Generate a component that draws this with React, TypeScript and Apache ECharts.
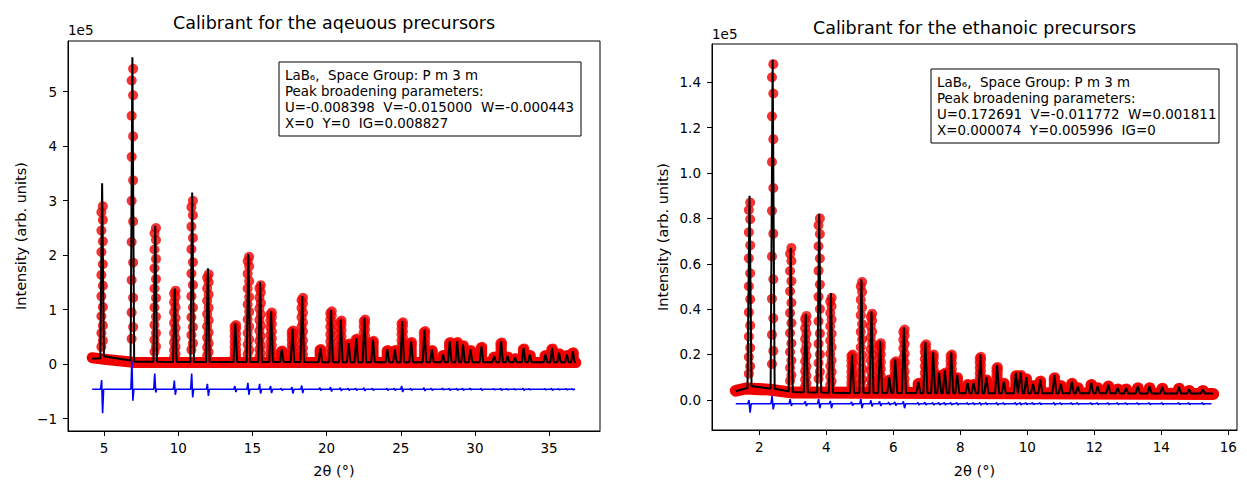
import React, { useEffect, useRef } from 'react';
import * as echarts from 'echarts';

const FONT = 'DejaVu Sans';
const RED = '#f20000';
const BLUE = '#0000ff';

// ---------- Left panel: aqueous calibrant (intensity in units of 1e5) ----------
const L_PEAK_POS = [4.87, 6.91, 8.45, 9.77, 10.94, 12.0, 13.85, 14.73, 15.52, 16.26, 16.98, 17.7, 18.36, 19.58, 20.3, 20.96, 21.49, 22.0, 22.55, 23.13, 24.1, 24.6, 25.1, 25.7, 26.6, 27.1, 27.85, 28.3, 28.8, 29.2, 29.7, 30.44, 31.3, 31.77, 32.2, 32.7, 33.28, 33.7, 34.75, 35.2, 35.67, 36.2, 36.6];
const L_CALC_H = [3.32, 5.63, 2.54, 1.39, 3.15, 1.76, 0.75, 2.02, 1.51, 0.97, 0.27, 0.65, 1.25, 0.3, 1.0, 0.82, 0.39, 0.48, 0.85, 0.45, 0.27, 0.27, 0.79, 0.42, 0.63, 0.27, 0.18, 0.42, 0.42, 0.36, 0.27, 0.33, 0.15, 0.42, 0.15, 0.12, 0.3, 0.18, 0.18, 0.3, 0.21, 0.18, 0.24];
const L_OBS_H = [2.9, 5.42, 2.5, 1.35, 3.0, 1.65, 0.72, 1.97, 1.45, 0.95, 0.25, 0.62, 1.22, 0.28, 0.97, 0.8, 0.38, 0.47, 0.82, 0.43, 0.26, 0.26, 0.77, 0.41, 0.61, 0.26, 0.17, 0.41, 0.41, 0.35, 0.26, 0.32, 0.14, 0.4, 0.14, 0.11, 0.29, 0.17, 0.17, 0.29, 0.2, 0.17, 0.22];
const L_DIFF_UP = [0.17, 0.52, 0.29, 0.16, 0.29, 0.1, 0.06, 0.12, 0.1, 0.06, 0.02, 0.04, 0.07, 0.03, 0.04, 0.03, 0.02, 0.02, 0.03, 0.02, 0.02, 0.02, 0.06, 0.02, 0.03, 0.02, 0.02, 0.02, 0.02, 0.02, 0.02, 0.02, 0.01, 0.02, 0.01, 0.01, 0.02, 0.01, 0.01, 0.02, 0.01, 0.01, 0.01];
const L_DIFF_DOWN = [-0.44, -0.21, -0.06, -0.1, -0.15, -0.12, -0.05, -0.1, -0.08, -0.07, -0.02, -0.08, -0.07, -0.02, -0.04, -0.03, -0.02, -0.02, -0.03, -0.02, -0.02, -0.02, -0.05, -0.02, -0.03, -0.02, -0.01, -0.02, -0.02, -0.02, -0.01, -0.02, -0.01, -0.02, -0.01, -0.01, -0.02, -0.01, -0.01, -0.02, -0.01, -0.01, -0.01];
const L_CALC_BG = [[4.2, 0.1], [4.75, 0.11], [5.0, 0.15], [6.8, 0.07], [7.05, 0.045], [12.0, 0.04], [36.8, 0.035]];
const L_OBS_BG = [[4.2, 0.12], [4.75, 0.1], [5.0, 0.09], [6.8, 0.04], [7.05, 0.03], [36.8, 0.03]];
const L_DIFF_OFFSET = -0.46;
const L_RANGE = [4.2, 36.75];
const L_X_TICKS = [5, 10, 15, 20, 25, 30, 35];
const L_Y_TICKS = [-1, 0, 1, 2, 3, 4, 5];

// ---------- Right panel: ethanoic calibrant (intensity in units of 1e5) ----------
const R_PEAK_POS = [1.71, 2.4, 2.94, 3.39, 3.79, 4.14, 4.77, 5.05, 5.35, 5.61, 5.88, 6.06, 6.32, 6.75, 6.96, 7.19, 7.37, 7.54, 7.73, 7.91, 8.22, 8.4, 8.6, 8.78, 9.1, 9.3, 9.66, 9.8, 9.97, 10.17, 10.39, 10.81, 11.0, 11.33, 11.51, 11.91, 12.1, 12.42, 12.7, 12.95, 13.3, 13.65, 14.03, 14.53, 14.83, 15.24];
const R_CALC_H = [0.9, 1.5, 0.67, 0.38, 0.82, 0.47, 0.2, 0.53, 0.39, 0.26, 0.1, 0.18, 0.32, 0.08, 0.255, 0.21, 0.12, 0.13, 0.21, 0.11, 0.075, 0.075, 0.2, 0.1, 0.154, 0.08, 0.12, 0.12, 0.1, 0.07, 0.09, 0.11, 0.07, 0.08, 0.06, 0.075, 0.06, 0.068, 0.053, 0.053, 0.06, 0.06, 0.058, 0.058, 0.046, 0.046];
const R_OBS_H = [0.87, 1.48, 0.67, 0.37, 0.8, 0.45, 0.2, 0.52, 0.38, 0.25, 0.09, 0.17, 0.31, 0.075, 0.245, 0.2, 0.11, 0.12, 0.2, 0.1, 0.07, 0.07, 0.19, 0.09, 0.145, 0.075, 0.11, 0.11, 0.095, 0.065, 0.085, 0.1, 0.065, 0.075, 0.055, 0.07, 0.055, 0.063, 0.05, 0.05, 0.055, 0.055, 0.053, 0.053, 0.043, 0.043];
const R_DIFF_UP = [0.016, 0.035, 0.02, 0.01, 0.02, 0.012, 0.008, 0.02, 0.015, 0.01, 0.006, 0.008, 0.01, 0.005, 0.006, 0.005, 0.005, 0.005, 0.005, 0.005, 0.004, 0.004, 0.005, 0.004, 0.005, 0.004, 0.005, 0.005, 0.004, 0.004, 0.004, 0.005, 0.004, 0.004, 0.004, 0.004, 0.004, 0.004, 0.004, 0.004, 0.004, 0.004, 0.004, 0.004, 0.004, 0.004];
const R_DIFF_DOWN = [-0.04, -0.025, -0.01, -0.01, -0.02, -0.02, -0.008, -0.02, -0.012, -0.01, -0.006, -0.008, -0.02, -0.005, -0.006, -0.005, -0.005, -0.005, -0.005, -0.005, -0.004, -0.004, -0.005, -0.004, -0.005, -0.004, -0.005, -0.005, -0.004, -0.004, -0.004, -0.005, -0.004, -0.004, -0.004, -0.004, -0.004, -0.004, -0.004, -0.004, -0.004, -0.004, -0.004, -0.004, -0.004, -0.004];
const R_CALC_BG = [[1.3, 0.038], [1.6, 0.05], [1.8, 0.06], [2.3, 0.05], [2.5, 0.048], [3.0, 0.035], [4.5, 0.03], [15.55, 0.028]];
const R_OBS_BG = [[1.3, 0.04], [1.6, 0.05], [2.3, 0.045], [3.0, 0.032], [15.55, 0.026]];
const R_DIFF_OFFSET = -0.017;
const R_RANGE = [1.3, 15.5];
const R_X_TICKS = [2, 4, 6, 8, 10, 12, 14, 16];
const R_Y_TICKS = [0, 0.2, 0.4, 0.6, 0.8, 1.0, 1.2, 1.4];

// fractions of the observed peak height where measured points sit on each flank
const DOTS_LEFT_FLANK = [0.96, 0.84, 0.7, 0.55, 0.41, 0.28, 0.17, 0.08];
const DOTS_RIGHT_FLANK = [1.0, 0.91, 0.77, 0.62, 0.48, 0.34, 0.22, 0.12];

const L_TEXT = [
  'LaB₆,  Space Group: P m 3 m',
  'Peak broadening parameters:',
  'U=-0.008398  V=-0.015000  W=-0.000443',
  'X=0  Y=0  IG=0.008827',
];
const R_TEXT = [
  'LaB₆,  Space Group: P m 3 m',
  'Peak broadening parameters:',
  'U=0.172691  V=-0.011772  W=0.001811',
  'X=0.000074  Y=0.005996  IG=0',
];

function bgAt(knots: number[][], x: number): number {
  if (x <= knots[0][0]) return knots[0][1];
  for (let i = 1; i < knots.length; i++) {
    if (x <= knots[i][0]) {
      const [x0, y0] = knots[i - 1];
      const [x1, y1] = knots[i];
      return y0 + ((y1 - y0) * (x - x0)) / (x1 - x0);
    }
  }
  return knots[knots.length - 1][1];
}

function calcProfile(pos: number[], h: number[], bg: number[][], w: number) {
  const pts: number[][] = [];
  bg.forEach(([x, y]) => {
    if (!pos.some((p) => x > p - w && x < p + w)) pts.push([x, y]);
  });
  pos.forEach((p, i) => {
    pts.push([p - w, bgAt(bg, p - w)], [p, h[i]], [p + w, bgAt(bg, p + w)]);
  });
  return pts.sort((a, b) => a[0] - b[0]);
}

function obsDots(pos: number[], h: number[], bg: number[][], dx: number) {
  const pts: number[][] = [];
  pos.forEach((p, i) => {
    const b = bgAt(bg, p);
    DOTS_LEFT_FLANK.forEach((f) => pts.push([p - dx, b + f * (h[i] - b)]));
    DOTS_RIGHT_FLANK.forEach((f) => pts.push([p + dx, b + f * (h[i] - b)]));
  });
  return pts;
}

function diffProfile(pos: number[], up: number[], down: number[], off: number, w: number, range: number[]) {
  const pts: number[][] = [[range[0], off]];
  pos.forEach((p, i) => {
    pts.push([p - w, off], [p - w / 3, off + up[i]], [p + w / 3, off + down[i]], [p + w, off]);
  });
  pts.push([range[1], off]);
  return pts;
}

const fmtLeft = (v: number) => (v < 0 ? '\u2212' + Math.abs(v) : String(v));
const fmtRight = (v: number) => v.toFixed(1);

function xAxis(grid: number, min: number, max: number, ticks: number[], gap: number) {
  return {
    type: 'value', gridIndex: grid, min, max,
    name: '2θ (°)', nameLocation: 'middle', nameGap: gap,
    nameTextStyle: { fontFamily: FONT, fontSize: 14.5, color: '#000' },
    axisLine: { show: true, onZero: false, lineStyle: { color: '#000', width: 1 } },
    axisTick: { show: true, length: 5, customValues: ticks, lineStyle: { color: '#000' } },
    axisLabel: { customValues: ticks, color: '#000', fontFamily: FONT, fontSize: 13.5, margin: 10 },
    splitLine: { show: false },
  };
}

function yAxis(grid: number, min: number, max: number, ticks: number[], fmt: (v: number) => string) {
  return {
    type: 'value', gridIndex: grid, min, max,
    name: 'Intensity (arb. units)', nameLocation: 'middle', nameGap: grid === 0 ? 40 : 42,
    nameTextStyle: { fontFamily: FONT, fontSize: 14.5, color: '#000' },
    axisLine: { show: true, onZero: false, lineStyle: { color: '#000', width: 1 } },
    axisTick: { show: true, length: 5, customValues: ticks, lineStyle: { color: '#000' } },
    axisLabel: { customValues: ticks, formatter: fmt, color: '#000', fontFamily: FONT, fontSize: 13.5, margin: 11 },
    splitLine: { show: false },
  };
}

function panelSeries(idx: number, obsBg: number[][], dots: number[][], calc: number[][], diff: number[][], bandWidth: number) {
  return [
    {
      type: 'line', xAxisIndex: idx, yAxisIndex: idx, data: obsBg, showSymbol: false, silent: true, z: 1,
      lineStyle: { color: RED, width: bandWidth, cap: 'round', join: 'round' },
    },
    {
      type: 'scatter', xAxisIndex: idx, yAxisIndex: idx, data: dots, symbol: 'circle', symbolSize: 10, silent: true, z: 2,
      itemStyle: { color: RED },
    },
    {
      type: 'line', xAxisIndex: idx, yAxisIndex: idx, data: calc, showSymbol: false, silent: true, z: 3,
      lineStyle: { color: '#000', width: 2 },
    },
    {
      type: 'line', xAxisIndex: idx, yAxisIndex: idx, data: diff, showSymbol: false, silent: true, z: 3,
      lineStyle: { color: BLUE, width: 1.6 },
    },
  ];
}

function infoBox(x: number, y: number, w: number, h: number, lines: string[]) {
  return {
    type: 'group', children: [
      { type: 'rect', shape: { x, y, width: w, height: h }, style: { fill: '#fff', stroke: '#000', lineWidth: 1 }, z: 10 },
      {
        type: 'text', x: x + 6, y: y + 5, z: 11,
        style: { text: lines.join('\n'), fontFamily: FONT, fontSize: 13.4, lineHeight: 16, fill: '#000', textVerticalAlign: 'top' },
      },
    ],
  };
}

function buildOption() {
  const lCalc = calcProfile(L_PEAK_POS, L_CALC_H, L_CALC_BG, 0.12);
  const lDots = obsDots(L_PEAK_POS, L_OBS_H, L_OBS_BG, 0.05);
  const lDiff = diffProfile(L_PEAK_POS, L_DIFF_UP, L_DIFF_DOWN, L_DIFF_OFFSET, 0.1, L_RANGE);
  const rCalc = calcProfile(R_PEAK_POS, R_CALC_H, R_CALC_BG, 0.06);
  const rDots = obsDots(R_PEAK_POS, R_OBS_H, R_OBS_BG, 0.02);
  const rDiff = diffProfile(R_PEAK_POS, R_DIFF_UP, R_DIFF_DOWN, R_DIFF_OFFSET, 0.05, R_RANGE);

  return {
    animation: false,
    backgroundColor: '#fff',
    grid: [
      { left: 68, top: 41, width: 532, height: 393, show: true, borderColor: '#000', borderWidth: 1, backgroundColor: 'transparent' },
      { left: 712, top: 44, width: 525, height: 394, show: true, borderColor: '#000', borderWidth: 1, backgroundColor: 'transparent' },
    ],
    xAxis: [xAxis(0, 2.57, 38.43, L_X_TICKS, 32), xAxis(1, 0.59, 16.26, R_X_TICKS, 33)],
    yAxis: [yAxis(0, -1.225, 5.93, L_Y_TICKS, fmtLeft), yAxis(1, -0.133, 1.569, R_Y_TICKS, fmtRight)],
    series: [
      ...panelSeries(0, L_OBS_BG, lDots, lCalc, lDiff, 11),
      ...panelSeries(1, R_OBS_BG, rDots, rCalc, rDiff, 12),
    ],
    graphic: [
      { type: 'text', x: 334, y: 14, style: { text: 'Calibrant for the aqeuous precursors', textAlign: 'center', textVerticalAlign: 'top', fontFamily: FONT, fontSize: 17.5, fill: '#000' } },
      { type: 'text', x: 974.5, y: 19, style: { text: 'Calibrant for the ethanoic precursors', textAlign: 'center', textVerticalAlign: 'top', fontFamily: FONT, fontSize: 17.5, fill: '#000' } },
      { type: 'text', x: 68, y: 23, style: { text: '1e5', fontFamily: FONT, fontSize: 13.5, fill: '#000', textVerticalAlign: 'top' } },
      { type: 'text', x: 712, y: 27, style: { text: '1e5', fontFamily: FONT, fontSize: 13.5, fill: '#000', textVerticalAlign: 'top' } },
      infoBox(279, 62, 302, 74, L_TEXT),
      infoBox(931, 69, 288, 74, R_TEXT),
    ],
  };
}

export default function App() {
  const ref = useRef<HTMLDivElement>(null);
  useEffect(() => {
    const chart = echarts.init(ref.current as HTMLDivElement, null, { renderer: 'svg' });
    chart.setOption(buildOption() as any);
    return () => chart.dispose();
  }, []);
  return <div ref={ref} style={{ position: 'absolute', left: 0, top: 0, width: 1247, height: 483, background: '#fff' }} />;
}
